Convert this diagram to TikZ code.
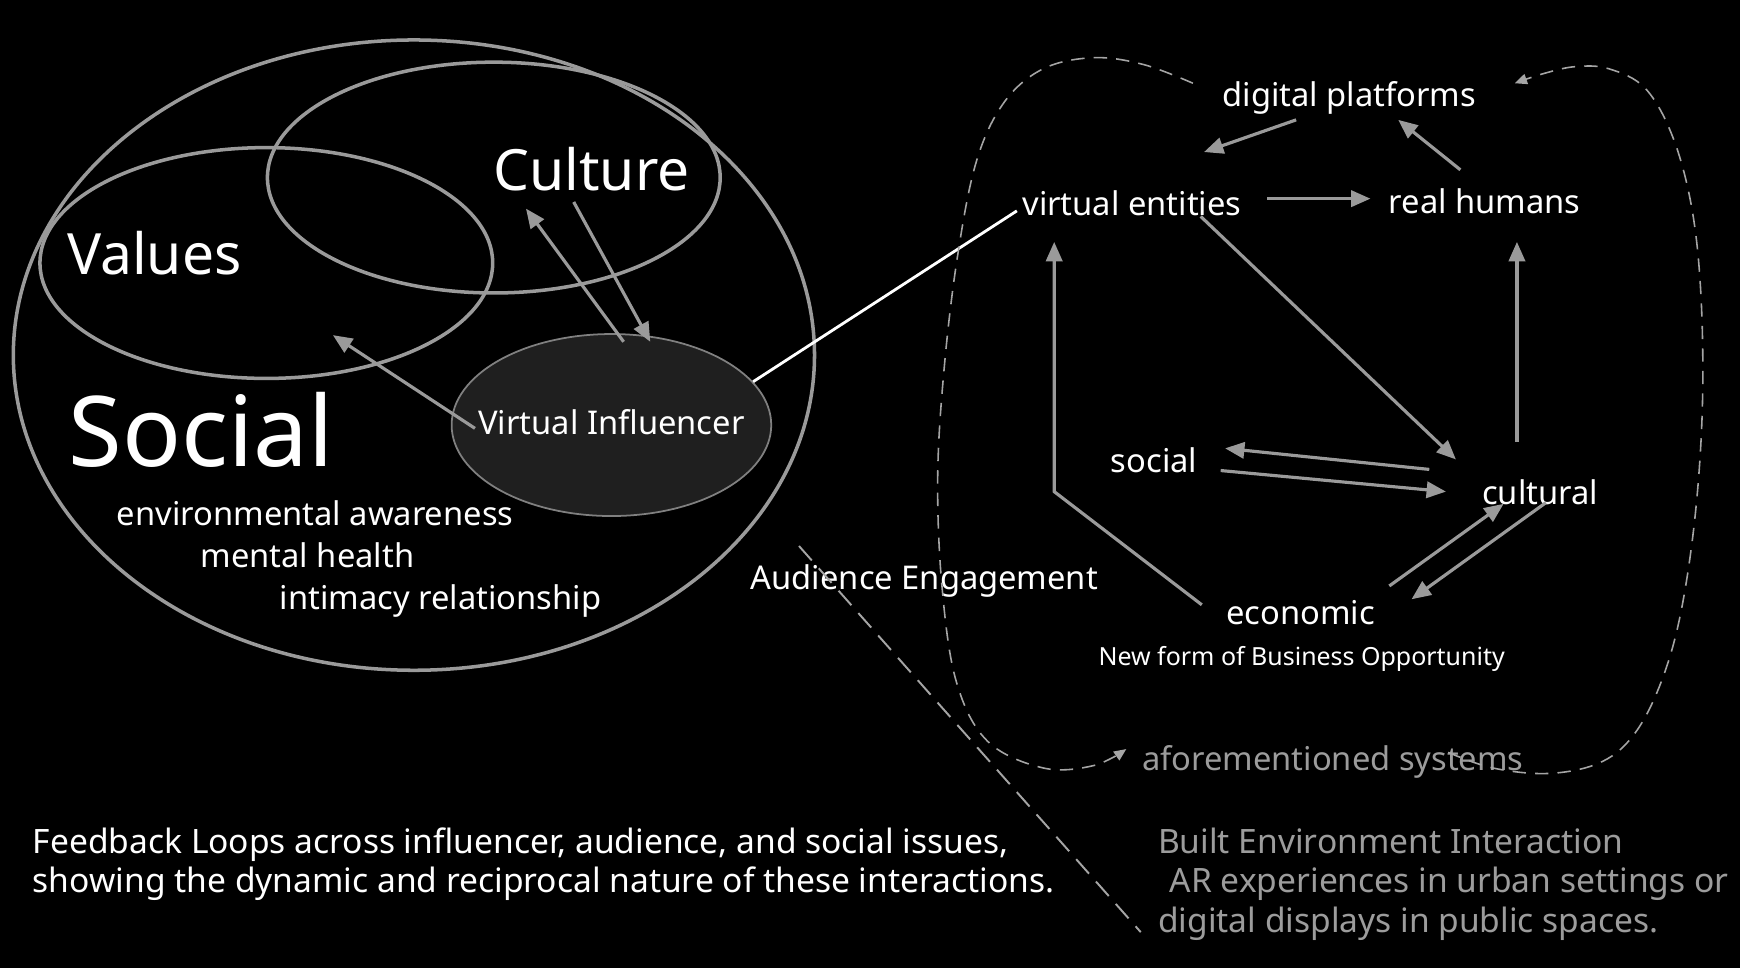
\documentclass[tikz,border=0pt]{standalone}
\usepackage{fontspec}
\setmainfont{Noto Sans}
\usetikzlibrary{arrows.meta,shapes.geometric}
\definecolor{linegray}{HTML}{9A9A9A}
\definecolor{dashgray}{HTML}{A5A5A5}
\definecolor{txtgray}{HTML}{9C9C9C}
\definecolor{vifill}{HTML}{1F1F1F}

\begin{document}
\begin{tikzpicture}[x=0.11097mm,y=-0.11097mm,>={Triangle[length=5.5pt,width=4.6pt]},
  lbl/.style={text=white,inner sep=2pt,font=\fontsize{9.3}{11}\selectfont,text height=9pt,text depth=1.8pt},
  grylbl/.style={lbl,text=txtgray},
  blockline/.style={text=white,inner sep=0pt,anchor=base west,font=\fontsize{9.55}{11}\selectfont},
  bigword/.style={text=white,inner sep=0pt,anchor=base west,font=\fontsize{16.2}{18}\selectfont},
  ring/.style={ellipse,draw=linegray,line width=1pt,inner sep=0pt},
  feed/.style={draw=linegray,line width=0.9pt,->},
  dashpath/.style={draw=dashgray,line width=0.45pt,dash pattern=on 3.8pt off 2.6pt,
    -{Triangle[length=3.5pt,width=3pt]}}]
\fill[black] (0,0) rectangle (1568,872);

% left: nested rings
\node[ring,minimum width=722*0.11097mm,minimum height=568*0.11097mm] (socring) at (373,320) {};
\node[ring,minimum width=408*0.11097mm,minimum height=208*0.11097mm] (valring) at (240,237) {};
\node[ring,minimum width=408*0.11097mm,minimum height=208*0.11097mm] (cultring) at (445,160) {};
\node[ellipse,draw=gray,fill=vifill,line width=0.5pt,minimum width=288*0.11097mm,minimum height=164*0.11097mm] (vi) at (551,383) {};
\node[lbl] (vitxt) at (551,380) {Virtual Influencer};

\node[bigword] (culture) at (444,172) {Culture};
\node[bigword] (values) at (60,247) {Values};
\node[bigword,font=\fontsize{27.8}{30}\selectfont] (social) at (61,420) {Social};
\node[lbl] (envaw) at (284,462) {environmental awareness};
\node[lbl] (menth) at (277,500) {mental health};
\node[lbl] (intim) at (397,538) {intimacy relationship};

\draw[feed] ([shift={(-123,6)}]vitxt.center) -- ([shift={(60,65)}]valring.center);
\draw[feed] ([shift={(11,-75)}]vi.center) -- ([shift={(29,28)}]cultring.center);
\draw[feed] ([shift={(72,22)}]cultring.center) -- ([shift={(35,-75)}]vi.center);

% right: systems
\node[lbl] (dp) at (1216,85) {digital platforms};
\node[lbl] (ve) at (1020,183) {virtual entities};
\node[lbl] (rh) at (1338,181) {real humans};
\node[lbl] (soc) at (1040,414) {social};
\node[lbl] (cul) at (1388,443) {cultural};
\node[lbl] (eco) at (1172,551) {economic};
\node[lbl,font=\fontsize{7.1}{9}\selectfont,text height=7pt,text depth=1.4pt] (biz) at (1173,591) {New form of Business Opportunity};
\node[lbl] (aud) at (833,520) {Audience Engagement};
\node[grylbl] (sys) at (1201,683) {aforementioned systems};

\draw[white,line width=0.8pt] (vi.17) -- ([shift={(2,7)}]ve.west);

\draw[feed] ([shift={(-48,23)}]dp.center) -- ([shift={(65,-46)}]ve.center);
\draw[feed] ([shift={(-22,-28)}]rh.center) -- ([shift={(44,23)}]dp.center);
\draw[feed] ([shift={(122,-4)}]ve.center) -- ([shift={(-103,-2)}]rh.center);
\draw[feed] ([shift={(-89,-6)}]eco.center) -- ++(-133,-102) -- ([shift={(-70,35)}]ve.center);
\draw[feed] ([shift={(62,12)}]ve.center) -- ([shift={(-76,-29)}]cul.center);
\draw[feed] ([shift={(-21,-45)}]cul.center) -- ([shift={(29,37)}]rh.center);
\draw[feed] ([shift={(-100,-20)}]cul.center) -- ([shift={(64,-10)}]soc.center);
\draw[feed] ([shift={(60,10)}]soc.center) -- ([shift={(-85,0)}]cul.center);
\draw[feed] ([shift={(80,-23)}]eco.center) -- ([shift={(-33,11)}]cul.center);
\draw[feed] ([shift={(5,10)}]cul.center) -- ([shift={(100,-11)}]eco.center);

% dashed loops round the systems
\draw[dashpath] plot[smooth,tension=0.6] coordinates {([shift={(-141,-10)}]dp.center) (1030,58) (985,52) (940,62) (905,92) (880,145) (863,230) (851,330) (845,430) (849,530) (862,615) (890,668) (940,692) (985,690) ([shift={(-186,-8)}]sys.center)};
\draw[dashpath] plot[smooth,tension=0.6] coordinates {([shift={(104,-5)}]sys.center) (1345,692) (1395,697) (1440,688) (1470,665) (1494,622) (1513,560) (1527,470) (1534,370) (1533,270) (1525,190) (1508,125) (1483,80) (1450,62) (1420,60) (1392,66) ([shift={(149,-10)}]dp.center)};

% bottom notes
\node[blockline] (fb1) at (29,769) {Feedback Loops across influencer, audience, and social issues,};
\node[blockline] (fb2) at (29,804) {showing the dynamic and reciprocal nature of these interactions.};
\node[blockline,text=txtgray] (be1) at (1043,769) {Built Environment Interaction};
\node[blockline,text=txtgray] (be2) at (1043,804) {\hspace*{0.35em}AR experiences in urban settings or};
\node[blockline,text=txtgray] (be3) at (1043,840) {digital displays in public spaces.};

\draw[draw=dashgray,line width=0.55pt,dash pattern=on 5.5pt off 3pt] ([shift={(-113,-28)}]aud.center) -- ([shift={(-15,0)}]be3.base west);
\end{tikzpicture}
\end{document}
